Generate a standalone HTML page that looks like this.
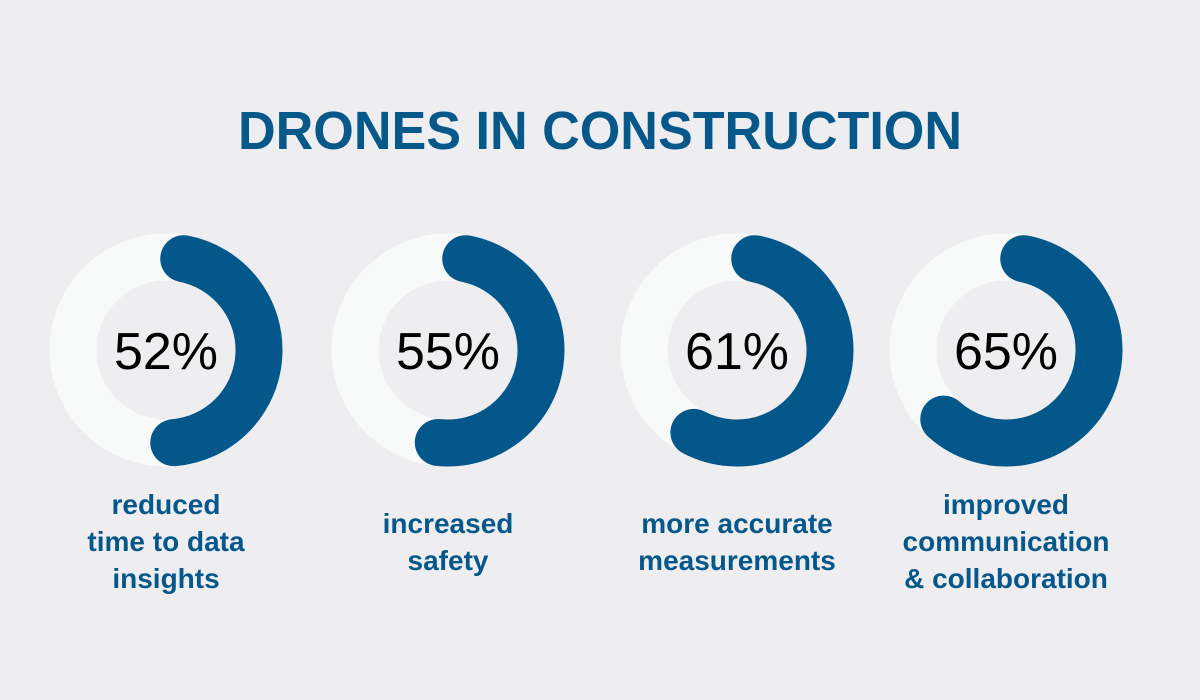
<!DOCTYPE html>
<html><head><meta charset="utf-8"><style>
html,body{margin:0;padding:0;background:#eeeef0;}
svg{display:block;font-family:"Liberation Sans",sans-serif;}
</style></head><body>
<svg id="chart" width="1200" height="700" viewBox="0 0 1200 700">
<rect width="1200" height="700" fill="#eeeef0"/>
<text x="600" y="149" text-anchor="middle" font-size="54" font-weight="bold" fill="#06578a" textLength="724" lengthAdjust="spacingAndGlyphs">DRONES IN CONSTRUCTION</text>
<g id="donuts"></g>
</svg>
<script>
const categories = [["reduced","time to data","insights"],["increased","safety"],["more accurate","measurements"],["improved","communication","& collaboration"]];
const values = [52, 55, 61, 65];
const valueLabels = ["52%","55%","61%","65%"];

const NS = "http://www.w3.org/2000/svg";
const g = document.getElementById("donuts");
const centersX = [166, 448, 737, 1006];
const cy = 350, R = 93, W = 47;
function angleFor(v){ return v/100*360; }
function pt(cx, a){ const r = a*Math.PI/180; return [cx + R*Math.sin(r), cy - R*Math.cos(r)]; }
values.forEach((v, i) => {
  const cx = centersX[i];
  const track = document.createElementNS(NS, "circle");
  
  
  track.setAttribute("cx", cx); track.setAttribute("cy", cy); track.setAttribute("r", R);
  track.setAttribute("fill", "none"); track.setAttribute("stroke", "#f8f9f9"); track.setAttribute("stroke-width", W);
  g.appendChild(track);
  const a0 = 11, a1 = angleFor(v) - 12;
  const p0 = pt(cx, a0), p1 = pt(cx, a1);
  const large = (a1 - a0) > 180 ? 1 : 0;
  const arc = document.createElementNS(NS, "path");
  
  
  arc.setAttribute("d", `M${p0[0]},${p0[1]} A${R},${R} 0 ${large} 1 ${p1[0]},${p1[1]}`);
  arc.setAttribute("fill", "none"); arc.setAttribute("stroke", "#03578a");
  arc.setAttribute("stroke-width", W); arc.setAttribute("stroke-linecap", "round");
  g.appendChild(arc);
  const t = document.createElementNS(NS, "text");
  
  
  t.setAttribute("x", cx); t.setAttribute("y", cy + 19);
  t.setAttribute("text-anchor", "middle"); t.setAttribute("font-size", "52"); t.setAttribute("fill", "#000");
  t.textContent = valueLabels[i];
  g.appendChild(t);
  const lines = categories[i];
  const startY = lines.length === 3 ? 514 : 533;
  lines.forEach((ln, j) => {
    const l = document.createElementNS(NS, "text");
    
    
    l.setAttribute("x", cx); l.setAttribute("y", startY + j*37);
    l.setAttribute("text-anchor", "middle"); l.setAttribute("font-size", "28");
    l.setAttribute("font-weight", "bold"); l.setAttribute("fill", "#06578a");
    l.textContent = ln;
    g.appendChild(l);
  });
});
</script>
</body></html>
